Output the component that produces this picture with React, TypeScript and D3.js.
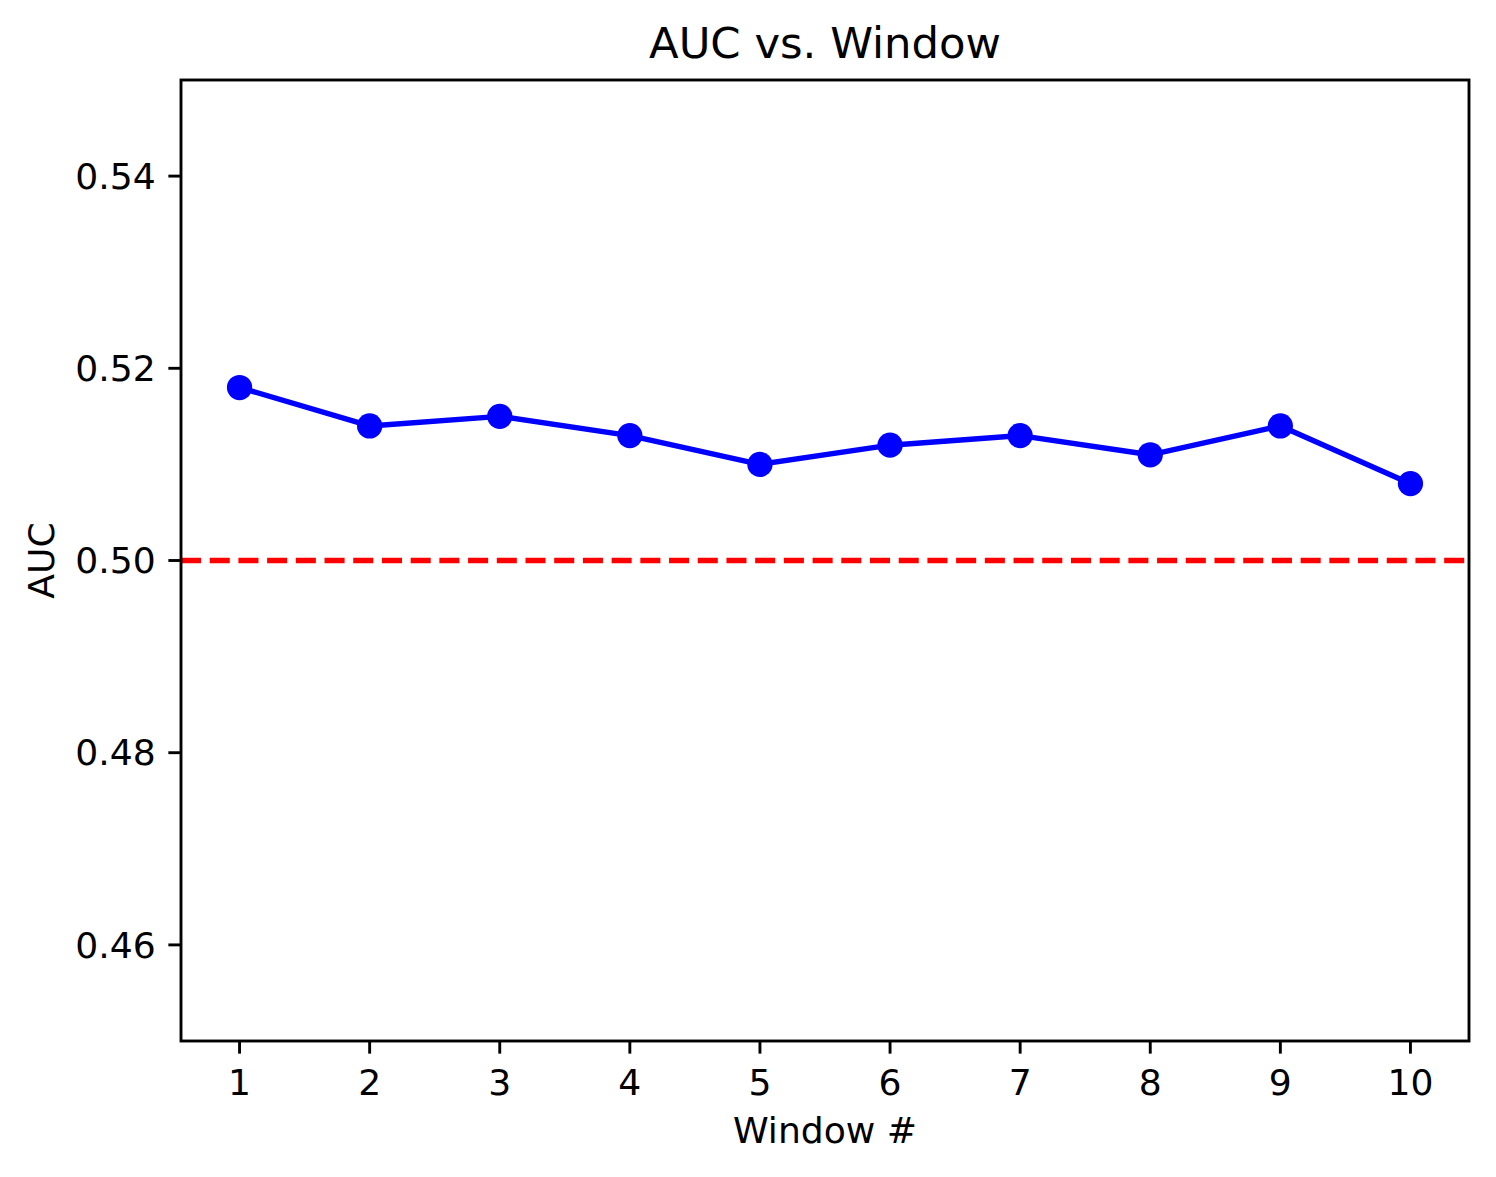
import React from "react";
import * as d3 from "d3";

const windows = [1, 2, 3, 4, 5, 6, 7, 8, 9, 10];
const aucValues = [0.518, 0.514, 0.515, 0.513, 0.51, 0.512, 0.513, 0.511, 0.514, 0.508];
const yTicks = [0.46, 0.48, 0.5, 0.52, 0.54];
const baseline = 0.5;

const W = 1496;
const H = 1177;
const left = 181;
const right = 1469;
const top = 80;
const bottom = 1041;
const pt = 260 / 72;

export default function App() {
  const x = d3.scaleLinear().domain([0.55, 10.45]).range([left, right]);
  const y = d3.scaleLinear().domain([0.45, 0.55]).range([bottom, top]);
  const line = d3
    .line<number>()
    .x((_, i) => x(windows[i]))
    .y((d) => y(d));
  const font = "'DejaVu Sans', sans-serif";
  const tickLen = 3.5 * pt;
  const tickFs = 10 * pt;
  return (
    <svg
      width={W}
      height={H}
      style={{ position: "absolute", left: 0, top: 0, background: "#fff" }}
      fontFamily={font}
    >
      <rect x={0} y={0} width={W} height={H} fill="#fff" />
      {/* baseline */}
      <line
        x1={left}
        x2={right}
        y1={y(baseline)}
        y2={y(baseline)}
        stroke="#ff0000"
        strokeWidth={1.5 * pt}
        strokeDasharray={`${3.7 * 1.5 * pt} ${1.6 * 1.5 * pt}`}
      />
      <path d={line(aucValues) || ""} fill="none" stroke="#0000ff" strokeWidth={1.5 * pt} strokeLinejoin="round" strokeLinecap="square" />
      {aucValues.map((v, i) => (
        <circle key={i} cx={x(windows[i])} cy={y(v)} r={3.5 * pt} fill="#0000ff" />
      ))}
      {/* spines */}
      <rect x={left} y={top} width={right - left} height={bottom - top} fill="none" stroke="#000" strokeWidth={0.8 * pt} />
      {/* x ticks */}
      {windows.map((w) => (
        <g key={w}>
          <line x1={x(w)} x2={x(w)} y1={bottom} y2={bottom + tickLen} stroke="#000" strokeWidth={0.8 * pt} />
          <text x={x(w)} y={1095} textAnchor="middle" fontSize={tickFs} fill="#000">
            {w}
          </text>
        </g>
      ))}
      {/* y ticks */}
      {yTicks.map((t) => (
        <g key={t}>
          <line x1={left - tickLen} x2={left} y1={y(t)} y2={y(t)} stroke="#000" strokeWidth={0.8 * pt} />
          <text x={left - tickLen - 3.5 * pt} y={y(t)} dy="0.35em" textAnchor="end" fontSize={tickFs} fill="#000">
            {t.toFixed(2)}
          </text>
        </g>
      ))}
      <text x={(left + right) / 2} y={1143} textAnchor="middle" fontSize={tickFs} fill="#000">
        Window #
      </text>
      <text
        transform={`translate(54, ${(top + bottom) / 2}) rotate(-90)`}
        textAnchor="middle"
        fontSize={tickFs}
        fill="#000"
      >
        AUC
      </text>
      <text x={(left + right) / 2} y={58} textAnchor="middle" fontSize={12 * pt} fill="#000">
        AUC vs. Window
      </text>
    </svg>
  );
}
